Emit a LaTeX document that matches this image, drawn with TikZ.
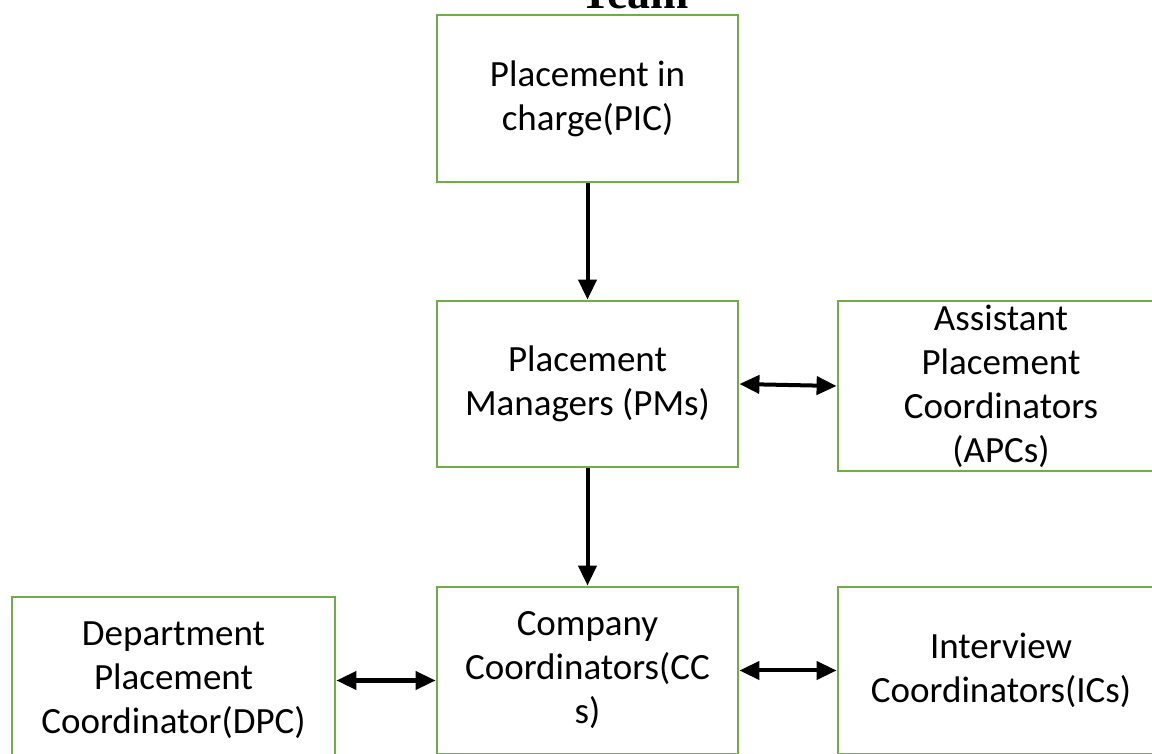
\documentclass[tikz,border=0pt]{standalone}
\usepackage{fontspec}
\setmainfont{Carlito}
\newfontfamily\titlefont{Liberation Serif}
\usetikzlibrary{arrows.meta}
\definecolor{boxgreen}{HTML}{70AD47}

\begin{document}
\begin{tikzpicture}[x=1pt, y=1pt,
		box/.style={draw=boxgreen, line width=2.8pt, fill=white, inner sep=0pt, align=center,
			font=\fontsize{37}{44}\selectfont},
		link/.style={line width=4pt, -{Triangle[length=20pt, width=18pt]}},
		twoway/.style={line width=4pt, {Triangle[length=20pt, width=18pt]}-{Triangle[length=20pt, width=18pt]}}]
		\useasboundingbox (0, 0) rectangle (1152, 753);
		\clip (0, 0) rectangle (1152, 753);
		\fill[white] (0, 0) rectangle (1152, 753);

		\node[anchor=base, font=\titlefont\bfseries\fontsize{46}{50}\selectfont] (team) at (635, 744) {Team};

		\node[box, minimum width=301, minimum height=167] (pic) at (587.5, 654.5) {Placement in\\charge(PIC)};
		\node[box, minimum width=301, minimum height=166] (pm) at (587.5, 369) {Placement\\Managers (PMs)};
		\node[box, minimum width=326, minimum height=170] (apc) at (1001, 367) {Assistant\\Placement\\Coordinators\\(APCs)};
		\node[box, minimum width=301, minimum height=167] (cc) at (587.5, 82.5) {Company\\Coordinators(CC\\s)};
		\node[box, minimum width=326, minimum height=167] (ic) at (1001, 82.5) {Interview\\Coordinators(ICs)};
		\node[box, minimum width=323, minimum height=167] (dpc) at (173.5, 72.5) {Department\\Placement\\Coordinator(DPC)};

		\draw[link] (pic) -- (pm);
		\draw[link] (pm) -- (cc);
		\draw[twoway] (pm.east) -- (apc.west);
		\draw[twoway] (dpc.east) -- (dpc.east -| cc.west);
		\draw[twoway] (cc.east) -- (ic.west);
	\end{tikzpicture}
\end{document}
